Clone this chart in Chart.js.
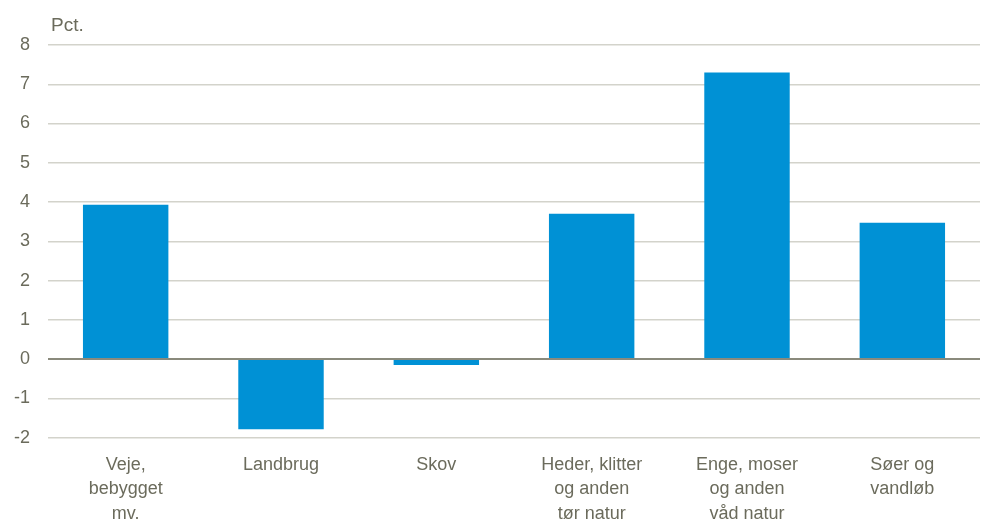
<!DOCTYPE html>
<html>
<head>
<meta charset="utf-8">
<script src="https://cdn.jsdelivr.net/npm/chart.js@4.4.0/dist/chart.umd.min.js"></script>
<style>
  html, body { margin: 0; padding: 0; background: #fff; }
  #wrap { width: 982px; height: 524px; }
</style>
</head>
<body>
<div id="wrap"><canvas id="c"></canvas></div>
<script>
const categories = [
    ['Veje,', 'bebygget', 'mv.'],
    ['Landbrug'],
    ['Skov'],
    ['Heder, klitter', 'og anden', 'tør natur'],
    ['Enge, moser', 'og anden', 'våd natur'],
    ['Søer og', 'vandløb']
];
const values = [3.93, -1.79, -0.15, 3.70, 7.30, 3.47];
const unitLabel = 'Pct.';

const textColor = '#6b6b5c';
const fontFamily = '"Liberation Sans", Arial, sans-serif';

// draws "Pct." above the plot, top left
const unitPlugin = {
    id: 'unitLabel',
    afterDraw(chart) {
        const ctx = chart.ctx;
        ctx.save();
        ctx.font = '19px ' + fontFamily;
        ctx.fillStyle = textColor;
        ctx.textBaseline = 'alphabetic';
        ctx.fillText(unitLabel, chart.chartArea.left + 3, 31);
        ctx.restore();
    }
};

new Chart(document.getElementById('c').getContext('2d'), {
    type: 'bar',
    data: {
        labels: categories,
        datasets: [{
            data: values,
            backgroundColor: '#0091d5',
            borderWidth: 0,
            barPercentage: 0.55,
            categoryPercentage: 1
        }]
    },
    options: {
        responsive: true,
        maintainAspectRatio: false,
        animation: false,
        layout: { padding: { top: 45, right: 2, left: -4, bottom: -9 } },
        plugins: {
            legend: { display: false },
            tooltip: { enabled: false }
        },
        scales: {
            x: {
                grid: { display: false },
                border: { display: false },
                ticks: {
                    color: textColor,
                    font: { family: fontFamily, size: 18, lineHeight: 1.36 },
                    maxRotation: 0,
                    autoSkip: false,
                    padding: 7
                }
            },
            y: {
                min: -2,
                max: 8,
                border: { display: false },
                grid: {
                    drawTicks: false,
                    lineWidth: function(context) {
                        return context.tick && context.tick.value === 0 ? 2 : 1.5;
                    },
                    color: function(context) {
                        return context.tick && context.tick.value === 0 ? '#8a8a7c' : '#d3d3cb';
                    }
                },
                ticks: {
                    stepSize: 1,
                    color: textColor,
                    padding: 18,
                    font: { family: fontFamily, size: 18 }
                }
            }
        }
    },
    plugins: [unitPlugin]
});
</script>
</body>
</html>
